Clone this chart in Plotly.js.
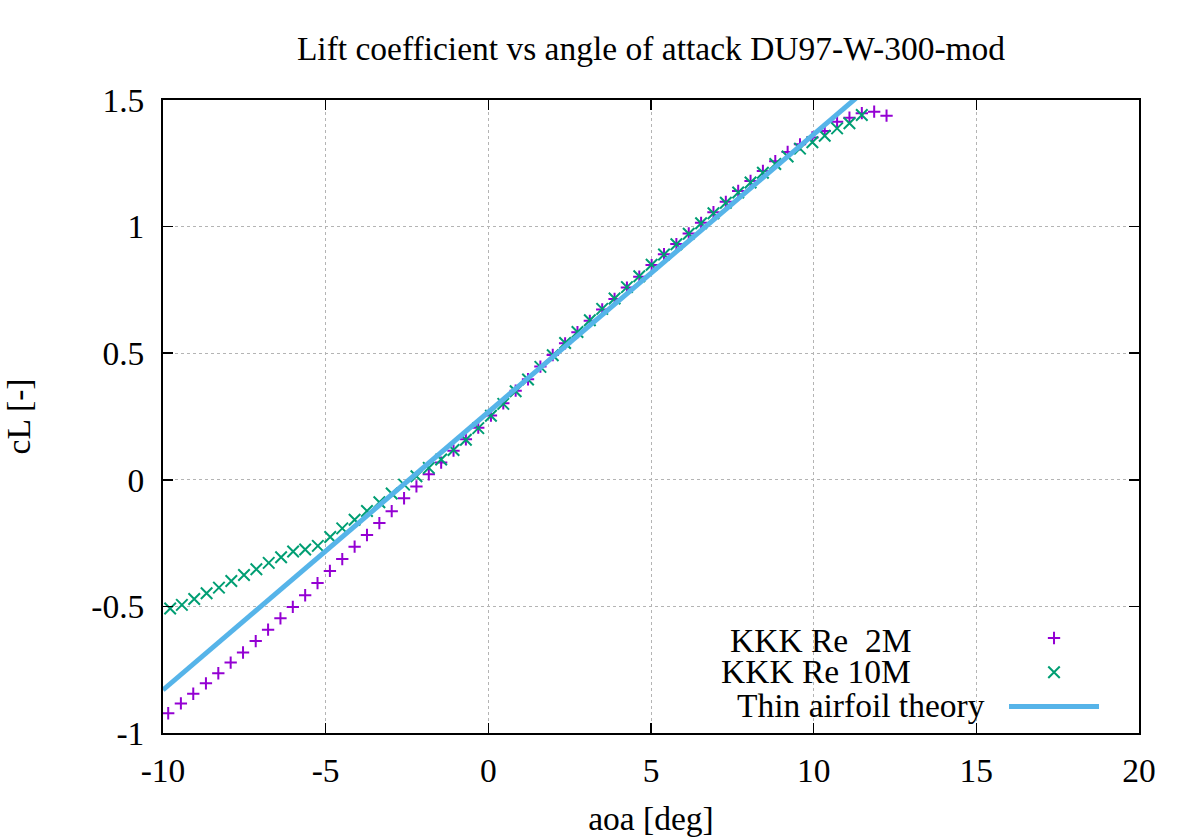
<!DOCTYPE html>
<html>
<head>
<meta charset="utf-8">
<script src="https://cdn.plot.ly/plotly-3.0.1.min.js"></script>
<style>
  body { margin: 0; background: #fff; }
  #plot { width: 1200px; height: 840px; }
</style>
</head>
<body>
<div id="plot"></div>
<script>
var aoa2M = [-9.84, -9.45, -9.07, -8.68, -8.30, -7.92, -7.54, -7.15, -6.77, -6.39,
  -6.01, -5.63, -5.25, -4.87, -4.49, -4.11, -3.73, -3.35, -2.97, -2.59,
  -2.21, -1.83, -1.45, -1.07, -0.69, -0.31, 0.08, 0.46, 0.84, 1.22,
  1.60, 1.98, 2.36, 2.74, 3.12, 3.50, 3.88, 4.26, 4.64, 5.02,
  5.40, 5.78, 6.16, 6.54, 6.92, 7.30, 7.68, 8.06, 8.44, 8.82,
  9.20, 9.58, 9.96, 10.34, 10.72, 11.10, 11.48, 11.86, 12.24];
var cl2M = [-0.922, -0.883, -0.845, -0.804, -0.764, -0.722, -0.682, -0.637, -0.592, -0.547,
  -0.502, -0.456, -0.408, -0.360, -0.313, -0.264, -0.218, -0.171, -0.124, -0.073,
  -0.026, 0.022, 0.068, 0.115, 0.160, 0.206, 0.254, 0.302, 0.352, 0.397,
  0.447, 0.493, 0.539, 0.583, 0.628, 0.673, 0.714, 0.759, 0.802, 0.848,
  0.891, 0.931, 0.973, 1.015, 1.057, 1.098, 1.141, 1.180, 1.220, 1.258,
  1.295, 1.325, 1.352, 1.378, 1.414, 1.430, 1.448, 1.454, 1.438];

// KKK measurements, Re 10M
var aoa10M = [-9.78, -9.42, -9.04, -8.66, -8.28, -7.90, -7.51, -7.13, -6.75, -6.37,
  -6.00, -5.63, -5.24, -4.86, -4.49, -4.11, -3.73, -3.35, -2.97, -2.59,
  -2.21, -1.83, -1.45, -1.07, -0.69, -0.31, 0.08, 0.46, 0.84, 1.22,
  1.60, 1.98, 2.36, 2.74, 3.12, 3.50, 3.88, 4.26, 4.64, 5.02,
  5.40, 5.78, 6.16, 6.54, 6.92, 7.30, 7.68, 8.06, 8.44, 8.82,
  9.20, 9.58, 9.96, 10.34, 10.72, 11.10, 11.48];
var cl10M = [-0.508, -0.494, -0.471, -0.448, -0.426, -0.400, -0.376, -0.353, -0.328, -0.306,
  -0.283, -0.275, -0.261, -0.226, -0.192, -0.158, -0.123, -0.089, -0.054, -0.019,
  0.014, 0.047, 0.080, 0.118, 0.158, 0.204, 0.253, 0.300, 0.350, 0.396,
  0.446, 0.492, 0.540, 0.584, 0.630, 0.675, 0.716, 0.761, 0.804, 0.849,
  0.890, 0.930, 0.972, 1.013, 1.053, 1.094, 1.135, 1.174, 1.213, 1.247,
  1.277, 1.308, 1.333, 1.359, 1.388, 1.408, 1.441];

// thin airfoil theory line, end points
var aoaTheory = [-10, 12];
var clTheory = [-0.83, 1.584];

// axis ticks (hyphen minus, like the original)
var xTicks = [-10, -5, 0, 5, 10, 15, 20];
var xTickText = ['-10', '-5', '0', '5', '10', '15', '20'];
var yTicks = [-1, -0.5, 0, 0.5, 1, 1.5];
var yTickText = ['-1', '-0.5', '0', '0.5', '1', '1.5'];

var legendNames = ['KKK Re  2M', 'KKK Re 10M', 'Thin airfoil theory'];

var serif = 'Liberation Serif, Times New Roman, serif';
var fs = 33.5;

var trace2M = {
  x: aoa2M, y: cl2M,
  type: 'scatter', mode: 'markers',
  name: ' ',
  marker: { symbol: 'cross-thin', size: 8.8, color: '#9400d3',
            line: { color: '#9400d3', width: 2 } }
};
var trace10M = {
  x: aoa10M, y: cl10M,
  type: 'scatter', mode: 'markers',
  name: ' ',
  marker: { symbol: 'x-thin', size: 11.5, color: '#009e73',
            line: { color: '#009e73', width: 2 } }
};
var traceTheory = {
  x: aoaTheory, y: clTheory,
  type: 'scatter', mode: 'lines',
  name: ' ',
  line: { color: '#56b4e9', width: 5 }
};

var axisStyle = {
  showline: true, linecolor: '#000', linewidth: 2, mirror: 'ticks',
  ticks: 'inside', ticklen: 10, tickwidth: 1.5, tickcolor: '#000',
  showgrid: true, gridcolor: '#b4b4b4', griddash: 'dot', gridwidth: 1,
  zeroline: false,
  tickfont: { family: serif, size: fs, color: '#000' }
};

// legend texts sit left of the symbols, like gnuplot's key
function keyText(i, xPos, yPos) {
  return { text: legendNames[i], xref: 'paper', yref: 'paper', x: xPos, y: yPos,
    xanchor: 'right', yanchor: 'middle', showarrow: false,
    font: { family: serif, size: fs, color: '#000' } };
}

var layout = {
  width: 1200, height: 840,
  margin: { l: 163, r: 61, t: 100, b: 107 },
  paper_bgcolor: '#fff', plot_bgcolor: '#fff',
  font: { family: serif, color: '#000' },
  title: {
    text: 'Lift coefficient vs angle of attack DU97-W-300-mod',
    font: { family: serif, size: fs, color: '#000' },
    xref: 'paper', x: 0.5, xanchor: 'center',
    yref: 'container', y: 1 - 48 / 840, yanchor: 'middle'
  },
  xaxis: Object.assign({}, axisStyle, {
    range: [-10, 20], tickvals: xTicks, ticktext: xTickText,
    ticklabelstandoff: 7,
    title: { text: 'aoa [deg]', font: { family: serif, size: fs, color: '#000' }, standoff: 18 }
  }),
  yaxis: Object.assign({}, axisStyle, {
    range: [-1, 1.5], tickvals: yTicks, ticktext: yTickText,
    ticklabelstandoff: 10,
    title: { text: 'cL [-]', font: { family: serif, size: fs, color: '#000' }, standoff: 53 }
  }),
  showlegend: true,
  legend: {
    x: 0.8617, xanchor: 'left', y: 0.185, yanchor: 'top',
    bgcolor: 'rgba(0,0,0,0)', borderwidth: 0,
    itemwidth: 90, tracegroupgap: 0,
    font: { family: serif, size: 24, color: '#000' }
  },
  shapes: [{
    type: 'rect', xref: 'paper', yref: 'paper', layer: 'between',
    x0: 0.448, x1: 0.998, y0: 0.003, y1: 0.175,
    fillcolor: '#fff', line: { width: 0 }
  }],
  annotations: [
    keyText(0, 0.7684, 0.1469),
    keyText(1, 0.7684, 0.0964),
    keyText(2, 0.8443, 0.0427)
  ]
};

Plotly.newPlot('plot', [trace2M, trace10M, traceTheory], layout, { staticPlot: true });
</script>
</body>
</html>
